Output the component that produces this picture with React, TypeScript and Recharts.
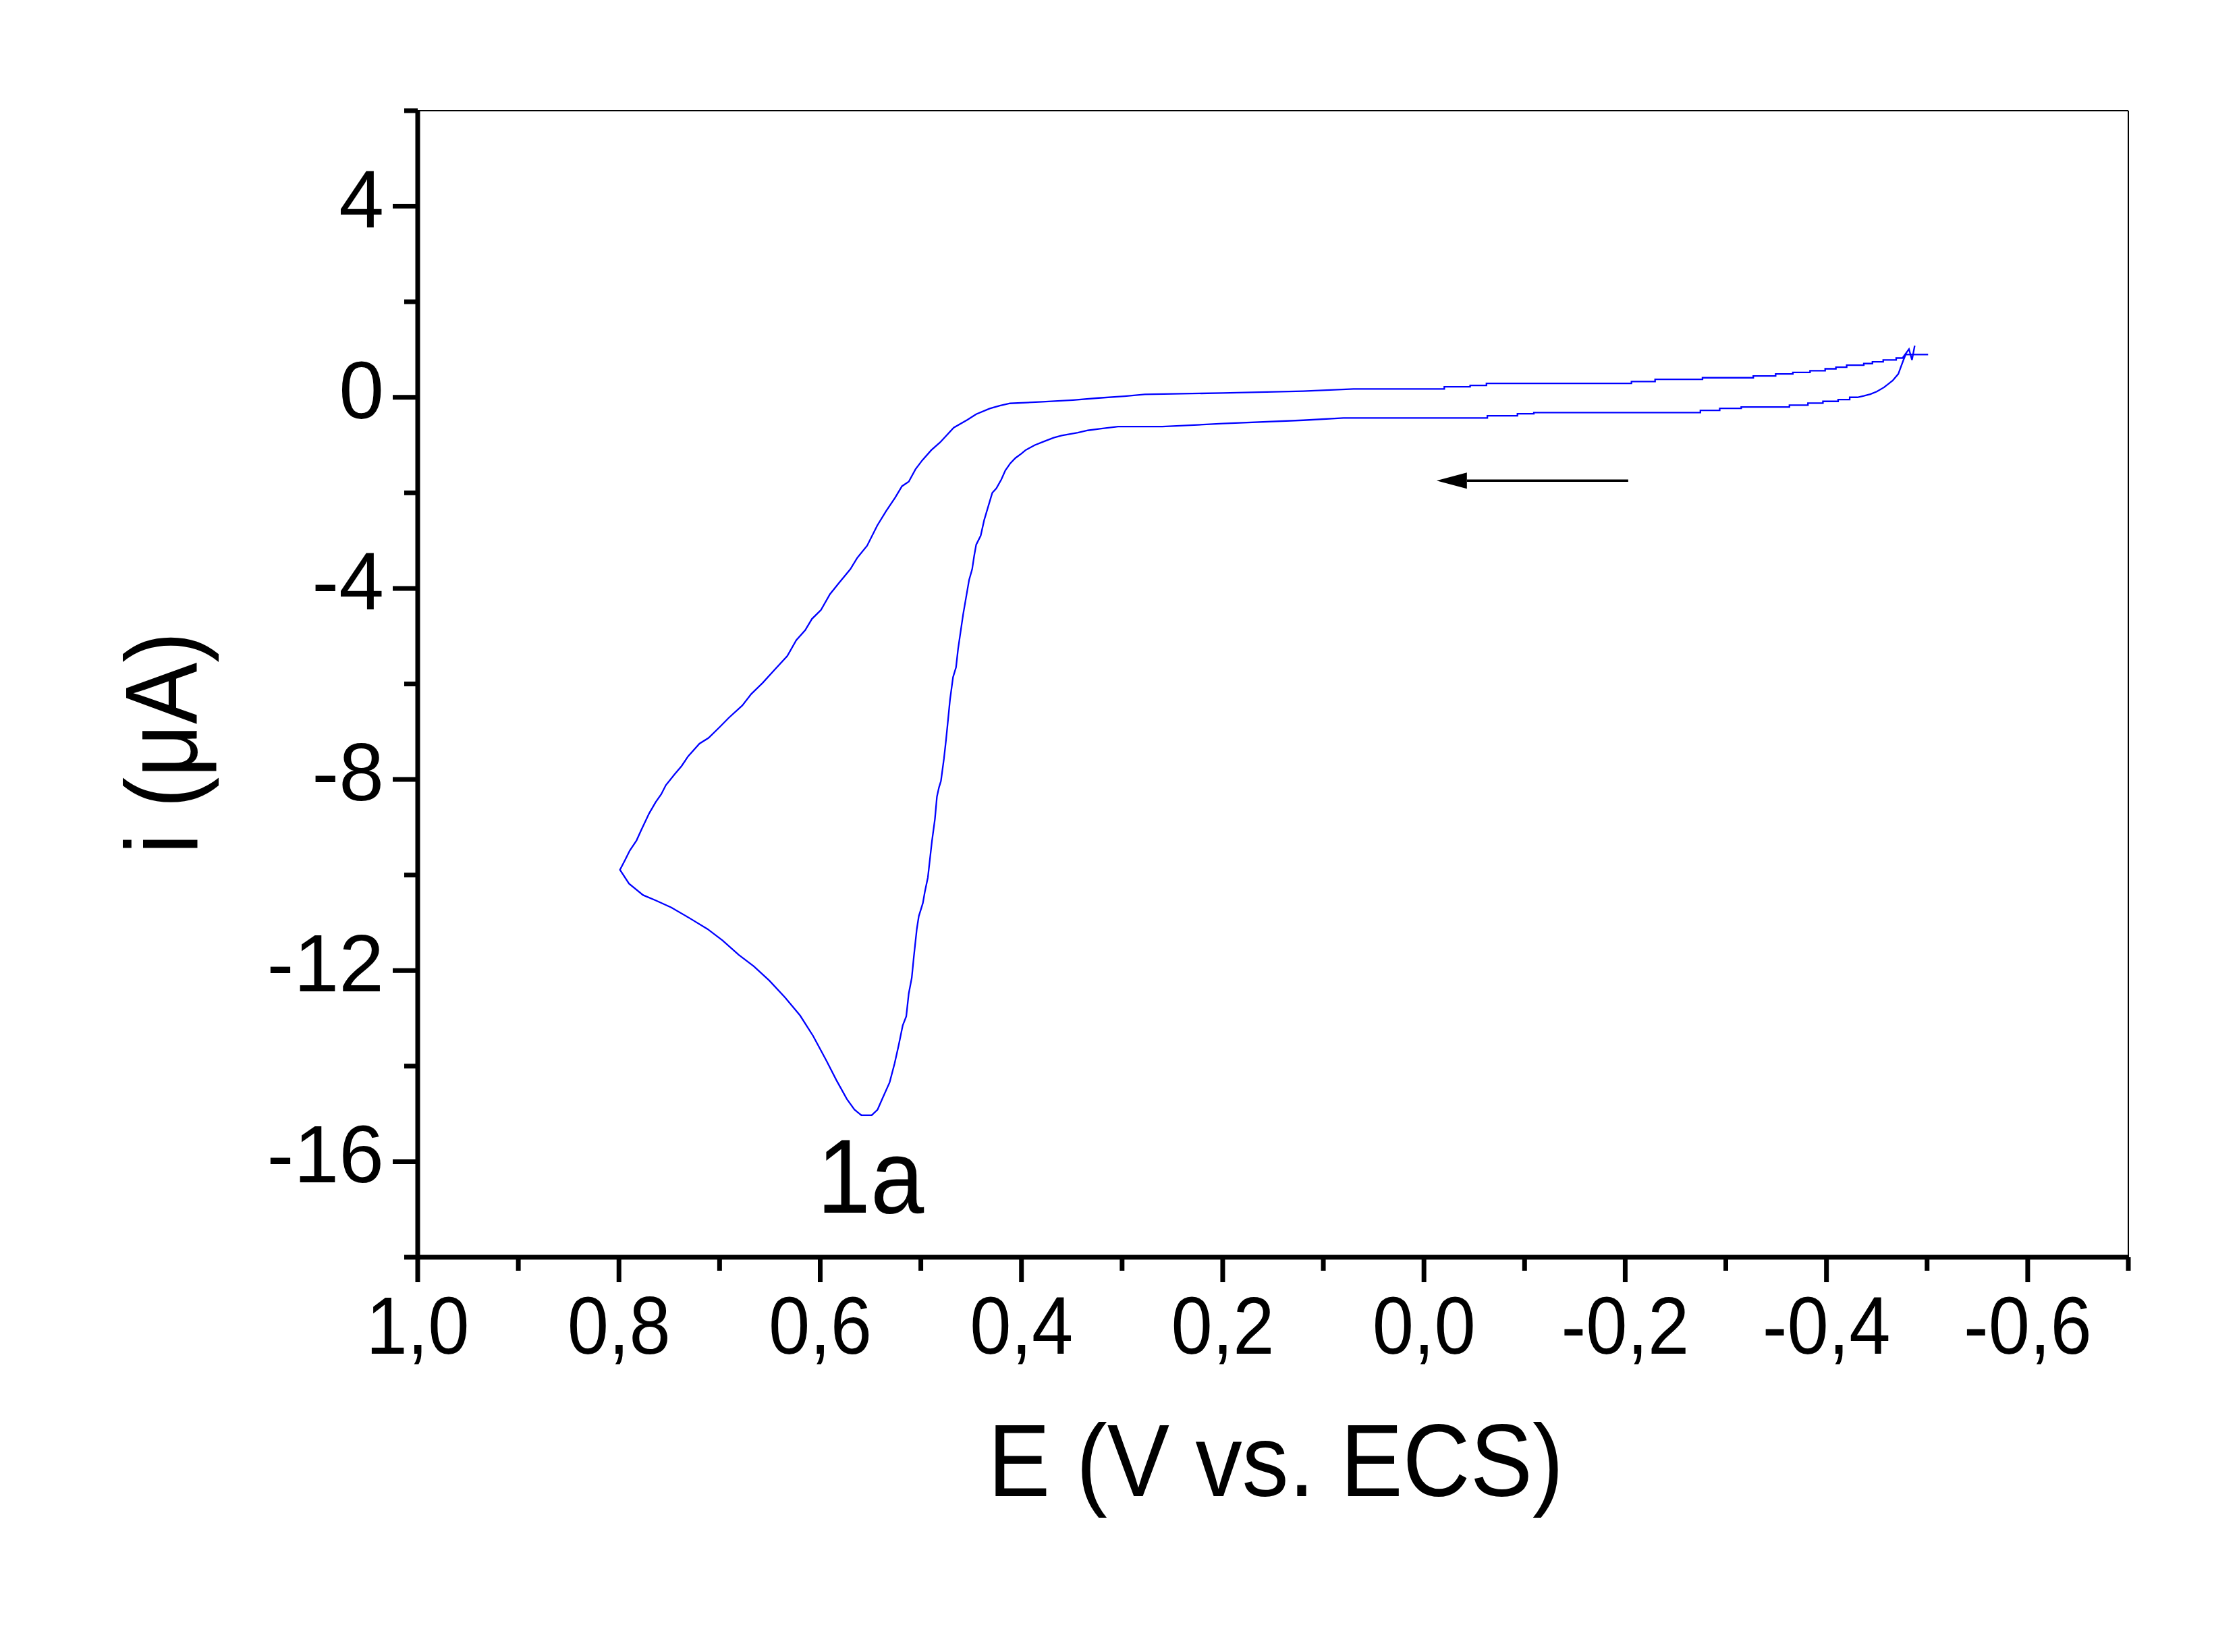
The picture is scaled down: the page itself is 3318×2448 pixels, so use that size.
import React from 'react';
import { LineChart, Line, XAxis, YAxis, ReferenceLine, ReferenceDot } from 'recharts';

// forward scan (starts at -0.5 V, runs toward positive potential)
const forwardE = [
  -0.501, -0.4787, -0.4765, -0.4735, -0.4714, -0.4658, -0.4573, -0.45, -0.4436, -0.4371,
  -0.4308, -0.4231, -0.4231, -0.4116, -0.4116, -0.3965, -0.3965, -0.3816, -0.3816, -0.3632,
  -0.3632, -0.3153, -0.3153, -0.2939, -0.2939, -0.2747, -0.2747, -0.1092, -0.1092, -0.0929,
  -0.0929, -0.063, -0.063, 0.08, 0.12, 0.2, 0.26, 0.304, 0.322, 0.334,
  0.344, 0.36, 0.368, 0.378, 0.387, 0.396, 0.4, 0.406, 0.411, 0.416,
  0.42, 0.425, 0.429, 0.433, 0.437, 0.4405, 0.445, 0.447, 0.449, 0.452,
  0.458, 0.463, 0.465, 0.468, 0.471, 0.473, 0.475, 0.477, 0.48, 0.482,
  0.484, 0.486, 0.489, 0.491, 0.493, 0.496, 0.498, 0.502, 0.504, 0.507,
  0.509, 0.512, 0.5145, 0.518, 0.522, 0.526, 0.531, 0.538, 0.543, 0.549,
  0.559, 0.566, 0.5735, 0.584, 0.594, 0.607, 0.62, 0.635, 0.6505, 0.666,
  0.681, 0.697, 0.712, 0.73, 0.748, 0.7635, 0.776, 0.79, 0.799,
];
const forwardI = [
  0.894, 0.894, 0.78, 0.61, 0.49, 0.35, 0.21, 0.12, 0.065, 0.03,
  0.0, 0.0, -0.048, -0.048, -0.085, -0.085, -0.123, -0.123, -0.165, -0.165,
  -0.203, -0.203, -0.231, -0.231, -0.274, -0.274, -0.32, -0.32, -0.344, -0.344,
  -0.387, -0.387, -0.434, -0.434, -0.48, -0.55, -0.613, -0.613, -0.66, -0.692,
  -0.74, -0.8, -0.847, -0.928, -1.003, -1.107, -1.178, -1.271, -1.38, -1.531,
  -1.719, -1.907, -2.0, -2.284, -2.566, -2.896, -3.085, -3.319, -3.6, -3.82,
  -4.55, -5.27, -5.65, -5.86, -6.33, -6.76, -7.18, -7.56, -8.03, -8.17,
  -8.36, -8.83, -9.3, -9.675, -10.05, -10.35, -10.59, -10.86, -11.13, -11.72,
  -12.15, -12.48, -12.96, -13.15, -13.56, -13.94, -14.34, -14.67, -14.91, -15.03,
  -15.03, -14.91, -14.69, -14.29, -13.88, -13.37, -12.94, -12.56, -12.21, -11.91,
  -11.67, -11.37, -11.13, -10.9, -10.68, -10.53, -10.42, -10.18, -9.89,
];

// reverse scan (from 0.8 V back toward -0.5 V)
const reverseE = [
  0.7937, 0.7892, 0.7825, 0.778, 0.77, 0.7635, 0.758, 0.7534, 0.7445, 0.7378,
  0.7311, 0.72, 0.711, 0.6998, 0.6909, 0.6774, 0.6685, 0.6573, 0.6461, 0.6327,
  0.6238, 0.6149, 0.6082, 0.5992, 0.5903, 0.5813, 0.5701, 0.5634, 0.5534, 0.5433,
  0.5344, 0.5254, 0.5187, 0.512, 0.5053, 0.4986, 0.4897, 0.4808, 0.4673, 0.4539,
  0.445, 0.4315, 0.4215, 0.4114, 0.379, 0.3488, 0.3232, 0.2974, 0.2773, 0.2,
  0.12, 0.07, -0.0202, -0.0202, -0.0459, -0.0459, -0.0621, -0.0621, -0.2062, -0.2062,
  -0.2297, -0.2297, -0.2768, -0.2768, -0.3273, -0.3273, -0.3495, -0.3495, -0.3666, -0.3666,
  -0.3837, -0.3837, -0.3987, -0.3987, -0.4094, -0.4094, -0.4201, -0.4201, -0.4371, -0.4371,
  -0.4457, -0.4457, -0.4564, -0.4564, -0.4693, -0.4693, -0.4756, -0.482, -0.485, -0.4877,
];
const reverseI = [
  -9.675, -9.487, -9.275, -9.064, -8.71, -8.475, -8.31, -8.12, -7.887, -7.72,
  -7.51, -7.25, -7.13, -6.9, -6.71, -6.45, -6.21, -5.98, -5.72, -5.415,
  -5.085, -4.873, -4.638, -4.449, -4.12, -3.884, -3.6, -3.367, -3.107, -2.684,
  -2.378, -2.096, -1.86, -1.766, -1.507, -1.319, -1.107, -0.942, -0.636, -0.472,
  -0.353, -0.236, -0.175, -0.127, -0.095, -0.057, -0.014, 0.023, 0.061, 0.09,
  0.13, 0.174, 0.174, 0.22, 0.22, 0.249, 0.249, 0.291, 0.291, 0.329,
  0.329, 0.376, 0.376, 0.41, 0.41, 0.446, 0.446, 0.489, 0.489, 0.522,
  0.522, 0.555, 0.555, 0.597, 0.597, 0.63, 0.63, 0.672, 0.672, 0.706,
  0.706, 0.743, 0.743, 0.781, 0.781, 0.823, 0.823, 1.01, 0.78, 1.08,
];

const potentialTicks = [1.0, 0.9, 0.8, 0.7, 0.6, 0.5, 0.4, 0.3, 0.2, 0.1, 0.0, -0.1, -0.2, -0.3, -0.4, -0.5, -0.6, -0.7];
const currentTicks = [-18, -16, -14, -12, -10, -8, -6, -4, -2, 0, 2, 4, 6];

// scan direction arrow and peak label, in data units
const arrowTail = { E: -0.203, i: -1.743 };
const arrowBase = { E: -0.0427, i: -1.743 };
const arrowTip = { E: -0.0125, i: -1.743 };
const peakLabel = { E: 0.55, i: -17.07, text: '1a' };

const W = 3318;
const H = 2448;
const PLOT = { left: 619, top: 164, right: 3154, bottom: 1863 };
const Y_AXIS_W = 500;
const X_AXIS_H = 400;
const FONT = '"Liberation Sans", Arial, Helvetica, sans-serif';

const data = [
  ...forwardE.map((E, k) => ({ E, i: forwardI[k] })),
  ...reverseE.map((E, k) => ({ E, i: reverseI[k] })),
];

function XTick(props: any) {
  const { x, y, payload } = props;
  const v = payload.value;
  const major = Math.round(v * 10) % 2 === 0;
  return (
    <g>
      <line x1={x} y1={y} x2={x} y2={y + (major ? 37 : 20)} stroke="#000" strokeWidth={7} />
      {major && (
        <text
          transform={`translate(${x},${y + 143}) scale(0.91,1)`}
          textAnchor="middle"
          fontSize={121}
          fontFamily={FONT}
          fill="#000"
        >
          {v.toFixed(1).replace('.', ',')}
        </text>
      )}
    </g>
  );
}

function YTick(props: any) {
  const { x, y, payload } = props;
  const v = payload.value;
  const major = v % 4 === 0;
  return (
    <g>
      <line x1={x} y1={y} x2={x - (major ? 37 : 20)} y2={y} stroke="#000" strokeWidth={7} />
      {major && (
        <text x={x - 50} y={y + 31} textAnchor="end" fontSize={120} fontFamily={FONT} fill="#000">
          {String(v)}
        </text>
      )}
    </g>
  );
}

const xTitle = () => (
  <text
    transform={`translate(${(PLOT.left + PLOT.right) / 2 + 4},${PLOT.bottom + 354}) scale(0.91,1)`}
    textAnchor="middle"
    fontSize={152}
    fontFamily={FONT}
    fill="#000"
  >
    E (V vs. ECS)
  </text>
);

const yTitle = () => (
  <text
    transform={`translate(292,1101) rotate(-90) scale(0.9,1)`}
    textAnchor="middle"
    fontSize={152}
    fontFamily={FONT}
    fill="#000"
  >
    i (μA)
  </text>
);

export default function App() {
  return (
    <div style={{ position: 'absolute', left: 0, top: 0, width: W, height: H, background: '#fff' }}>
      <LineChart
        width={W}
        height={H}
        data={data}
        margin={{
          top: PLOT.top,
          right: W - PLOT.right,
          left: PLOT.left - Y_AXIS_W,
          bottom: H - PLOT.bottom - X_AXIS_H,
        }}
      >
        <XAxis
          dataKey="E"
          type="number"
          domain={[-0.7, 1.0]}
          reversed
          allowDataOverflow
          ticks={potentialTicks}
          interval={0}
          tickSize={0}
          tickMargin={0}
          tickLine={false}
          tick={<XTick />}
          height={X_AXIS_H}
          axisLine={{ stroke: '#000', strokeWidth: 7 }}
          label={xTitle}
        />
        <YAxis
          type="number"
          domain={[-18, 6]}
          allowDataOverflow
          ticks={currentTicks}
          interval={0}
          tickSize={0}
          tickMargin={0}
          tickLine={false}
          tick={<YTick />}
          width={Y_AXIS_W}
          axisLine={{ stroke: '#000', strokeWidth: 7 }}
          label={yTitle}
        />
        <ReferenceLine y={6} stroke="#000" strokeWidth={2} />
        <ReferenceLine x={-0.7} stroke="#000" strokeWidth={2} />
        <ReferenceLine
          segment={[
            { x: arrowTail.E, y: arrowTail.i },
            { x: arrowBase.E, y: arrowBase.i },
          ]}
          stroke="#000"
          strokeWidth={3.5}
        />
        <ReferenceDot
          x={arrowTip.E}
          y={arrowTip.i}
          r={1}
          shape={(p: any) => (
            <polygon
              points={`${p.cx},${p.cy} ${p.cx + 45},${p.cy - 12} ${p.cx + 45},${p.cy + 12}`}
              fill="#000"
            />
          )}
        />
        <ReferenceDot
          x={peakLabel.E}
          y={peakLabel.i}
          r={1}
          shape={(p: any) => (
            <text
              transform={`translate(${p.cx},${p.cy}) scale(0.92,1)`}
              textAnchor="middle"
              fontSize={155}
              fontFamily={FONT}
              fill="#000"
            >
              {peakLabel.text}
            </text>
          )}
        />
        <Line
          type="linear"
          dataKey="i"
          stroke="#0000ff"
          strokeWidth={2.3}
          dot={false}
          isAnimationActive={false}
        />
      </LineChart>
    </div>
  );
}
